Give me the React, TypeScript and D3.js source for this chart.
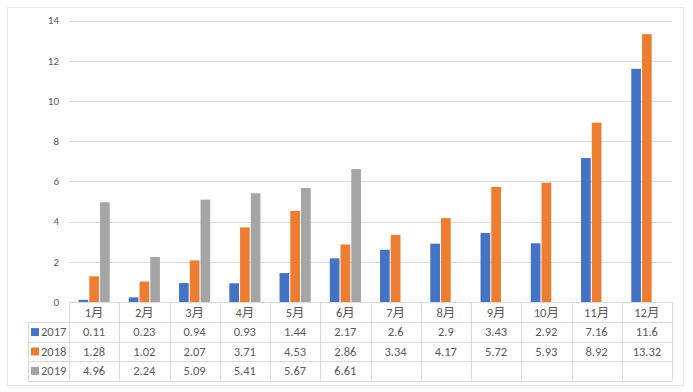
import React from "react";
import * as d3 from "d3";

const months = ["1月", "2月", "3月", "4月", "5月", "6月", "7月", "8月", "9月", "10月", "11月", "12月"];
const seriesNames = ["2017", "2018", "2019"];
const values2017 = [0.11, 0.23, 0.94, 0.93, 1.44, 2.17, 2.6, 2.9, 3.43, 2.92, 7.16, 11.6];
const values2018 = [1.28, 1.02, 2.07, 3.71, 4.53, 2.86, 3.34, 4.17, 5.72, 5.93, 8.92, 13.32];
const values2019 = [4.96, 2.24, 5.09, 5.41, 5.67, 6.61, null, null, null, null, null, null];
const yTicks = [0, 2, 4, 6, 8, 10, 12, 14];
const colors = ["#4472C4", "#ED7D31", "#A5A5A5"];

const W = 693;
const H = 392;
const plotLeft = 69;
const plotRight = 672;
const legendLeft = 28;
const rowH = 19.4;
const font = "Calibri, Carlito, 'Noto Sans', 'Noto Sans CJK SC', sans-serif";

export default function App() {
    const allSeries = [values2017, values2018, values2019];

    const y = d3.scaleLinear().domain([0, 14]).range([302, 20.5]);

    const x = d3
        .scaleBand()
        .domain(months)
        .range([plotLeft, plotRight])
        .paddingInner(0.38)
        .paddingOuter(0.19);

    const xs = d3.scaleBand().domain(seriesNames).range([0, x.bandwidth()]).paddingInner(0.1);

    const step = x.step();
    const tableTop = y(0);
    const rows = [tableTop, tableTop + 20.4, tableTop + 20.4 + rowH, tableTop + 20.4 + 2 * rowH, tableTop + 20.4 + 3 * rowH];

    return (
        <svg width={W} height={H} style={{ position: "absolute", left: 0, top: 0 }} fontFamily={font}>
            <rect x={0} y={0} width={W} height={H} fill="#ffffff" />
            <rect x={7.5} y={7.5} width={676} height={378} fill="#ffffff" stroke="#e6e6e6" />

            {/* grid + y ticks */}
            {yTicks.map((t) => (
                <g key={t}>
                    {t > 0 && (
                        <line x1={plotLeft} x2={plotRight} y1={Math.round(y(t)) + 0.5} y2={Math.round(y(t)) + 0.5} stroke="#d9d9d9" />
                    )}
                    <text x={59} y={y(t)} dy="0.35em" textAnchor="end" fontSize={11} fill="#595959">
                        {t}
                    </text>
                </g>
            ))}

            {/* bars */}
            {allSeries.map((vals, si) =>
                vals.map((v, i) =>
                    v == null ? null : (
                        <rect
                            key={`${si}-${i}`}
                            x={(x(months[i]) as number) + (xs(seriesNames[si]) as number)}
                            y={y(v)}
                            width={xs.bandwidth()}
                            height={y(0) - y(v)}
                            fill={colors[si]}
                        />
                    )
                )
            )}

            {/* data table */}
            <g stroke="#d9d9d9" fill="none">
                <line x1={plotLeft} x2={plotRight} y1={rows[0] + 0.5} y2={rows[0] + 0.5} />
                {rows.slice(1).map((r, i) => (
                    <line key={i} x1={legendLeft} x2={plotRight} y1={Math.round(r) + 0.5} y2={Math.round(r) + 0.5} />
                ))}
                <line x1={legendLeft + 0.5} x2={legendLeft + 0.5} y1={rows[1]} y2={rows[4]} />
                {d3.range(13).map((i) => (
                    <line
                        key={i}
                        x1={Math.round(plotLeft + i * step) + 0.5}
                        x2={Math.round(plotLeft + i * step) + 0.5}
                        y1={rows[0]}
                        y2={rows[4]}
                    />
                ))}
            </g>

            {months.map((m, i) => (
                <text
                    key={m}
                    x={plotLeft + (i + 0.5) * step}
                    y={(rows[0] + rows[1]) / 2}
                    dy="0.35em"
                    textAnchor="middle"
                    fontSize={12.5}
                    fill="#595959"
                >
                    {m}
                </text>
            ))}

            {allSeries.map((vals, si) => (
                <g key={si}>
                    <rect x={31} y={(rows[si + 1] + rows[si + 2]) / 2 - 4} width={8} height={8} fill={colors[si]} />
                    <text x={41} y={(rows[si + 1] + rows[si + 2]) / 2} dy="0.35em" fontSize={12.5} fill="#595959">
                        {seriesNames[si]}
                    </text>
                    {vals.map((v, i) =>
                        v == null ? null : (
                            <text
                                key={i}
                                x={plotLeft + (i + 0.5) * step}
                                y={(rows[si + 1] + rows[si + 2]) / 2}
                                dy="0.35em"
                                textAnchor="middle"
                                fontSize={12.5}
                                fill="#595959"
                            >
                                {v}
                            </text>
                        )
                    )}
                </g>
            ))}
        </svg>
    );
}
